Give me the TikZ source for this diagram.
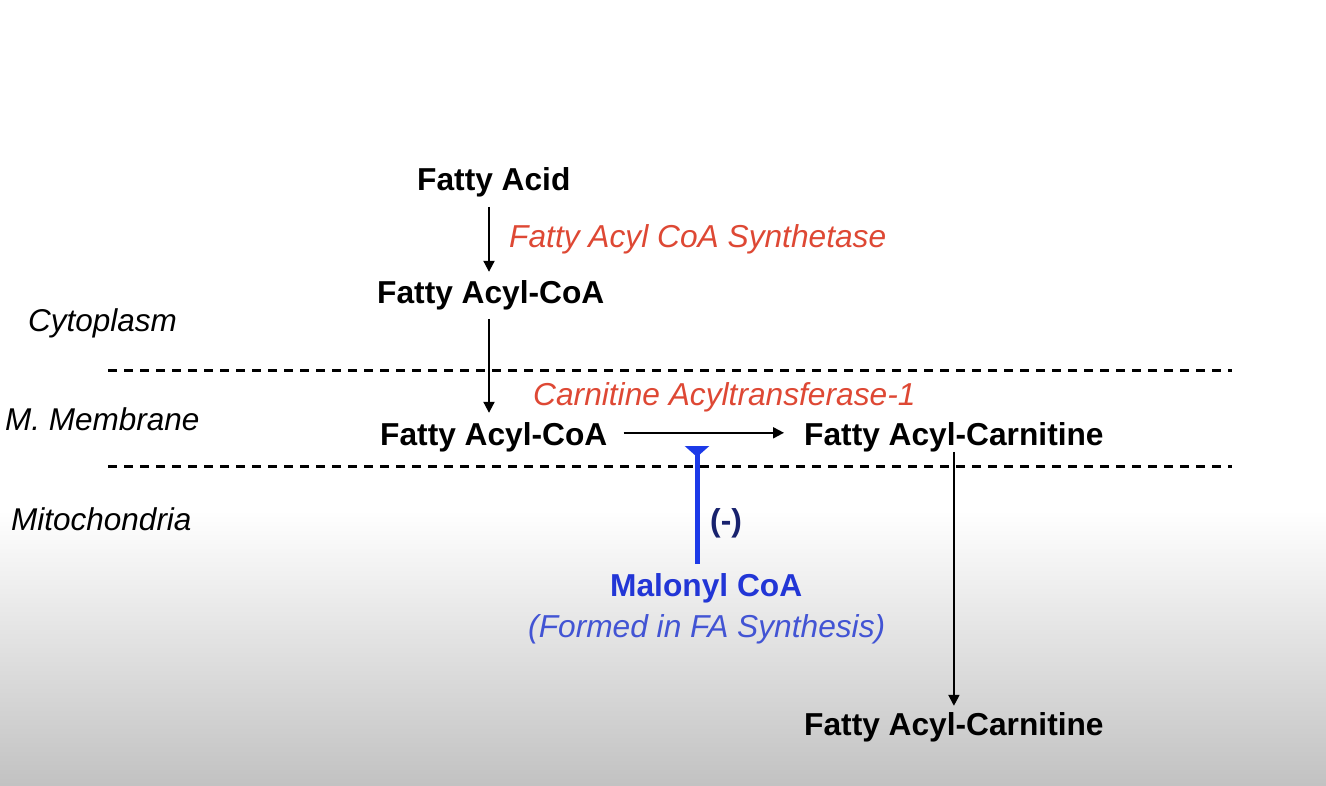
\documentclass[tikz,border=0pt]{standalone}
\usepackage[usenames,dvipsnames]{xcolor}
\usepackage{fontspec}
\setmainfont{Liberation Sans}
\usetikzlibrary{arrows.meta}

\definecolor{EnzRed}{RGB}{222,72,52}
\definecolor{InhBlue}{RGB}{28,58,232}
\definecolor{MalBlue}{RGB}{34,54,214}
\definecolor{SubBlue}{RGB}{66,84,212}
\definecolor{NegNavy}{RGB}{24,34,110}

\tikzset{
	metab/.style={anchor=base west, inner sep=9pt, font=\fontsize{31.7}{38}\selectfont\bfseries},
	enzyme/.style={anchor=base west, inner sep=0pt, text=EnzRed, font=\fontsize{31.7}{38}\selectfont\itshape},
	region/.style={anchor=base west, inner sep=0pt, font=\fontsize{31.5}{38}\selectfont\itshape},
	flow/.style={line width=2pt, -{Triangle[length=11pt,width=11pt]}},
	membrane/.style={line width=3pt, dash pattern=on 8.5pt off 7.5pt}
}

\begin{document}
\begin{tikzpicture}[x=1pt,y=-1pt]

	% background
	\useasboundingbox (0,0) rectangle (1326,786);
	\fill[white] (0,0) rectangle (1326,511);
	\shade[top color=white, bottom color=black!24] (0,510) rectangle (1326,786);

	% compartments
	\draw[membrane] (108,371) -- (1232,371);
	\draw[membrane] (108,466) -- (1232,466);
	\node[region] (cyto) at (28,332) {Cytoplasm};
	\node[region] (memb) at (5,431) {M. Membrane};
	\node[region] (mito) at (11,530) {Mitochondria};

	% metabolites
	\node[metab] (fa) at (408,191) {Fatty Acid};
	\node[metab] (facoa1) at (368,304) {Fatty Acyl-CoA};
	\node[metab] (facoa2) at (371,445) {Fatty Acyl-CoA};
	\node[metab] (fac1) at (795,445) {Fatty Acyl-Carnitine};
	\node[metab] (fac2) at (795,735) {Fatty Acyl-Carnitine};

	% enzymes
	\node[enzyme] (facs) at (509,248) {Fatty Acyl CoA Synthetase};
	\node[enzyme] (cat1) at (533,406) {Carnitine Acyltransferase-1};

	\draw[flow] (fa.south -| 489,0) -- (facoa1.north -| 489,0);
	\draw[flow, shorten <=-1pt] (facoa1.south -| 489,0) -- (facoa2.north -| 489,0);
	\draw[flow, shorten <=7pt, shorten >=11pt] ([yshift=4pt]facoa2.east) -- ([yshift=4pt]fac1.west);
	\draw[flow, shorten <=-9pt, shorten >=-3pt] (fac1.south) -- (fac2.north);

	% inhibition by malonyl CoA
	\node[metab, text=MalBlue] (malonyl) at (601,596) {Malonyl CoA};
	\node[anchor=base west, inner sep=0pt, text=SubBlue, font=\fontsize{31.7}{38}\selectfont\itshape] (formed) at (528,637) {(Formed in FA Synthesis)};
	\node[anchor=base west, inner sep=0pt, text=NegNavy, font=\fontsize{31.7}{38}\selectfont\bfseries] (neg) at (710,531) {(-)};
	\coordinate (inh) at (697,446);
	\draw[InhBlue, line width=5pt, -{Triangle[reversed,length=11pt,width=24pt]}] (malonyl.north -| inh) -- (inh);

\end{tikzpicture}
\end{document}
